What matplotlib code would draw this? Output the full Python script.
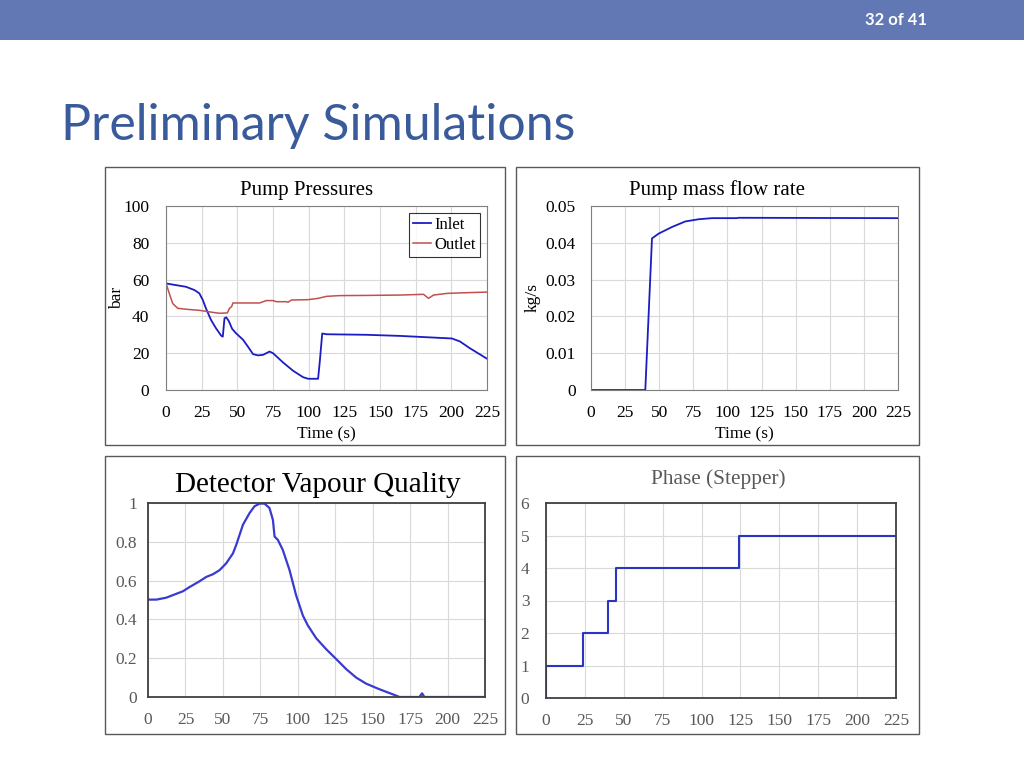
import numpy as np
import matplotlib
matplotlib.use('Agg')
from matplotlib import pyplot as plt
from matplotlib.patches import Rectangle

# pump pressures (bar)
inlet_t = [0, 7, 14, 20, 23.4, 25.8, 28, 31.6, 35, 38.7, 39.8, 41, 42.2, 44, 46.4, 49, 54, 57.4, 61, 64.5, 68,
           72.6, 75, 82, 89, 96, 99.6, 106.6, 107.8, 109.5, 112.5, 140.6, 164, 187.5, 200.4, 206, 213, 225]
inlet_p = [57.9, 57, 56.1, 54.3, 52.5, 48.9, 44.4, 38, 33.6, 29.5, 29, 39, 39.5, 37.5, 33.2, 30.9, 27.3, 23.6, 19.5, 18.8, 19.1,
           20.9, 20, 15, 10.5, 7, 6.1, 6.1, 15.5, 30.7, 30.3, 30, 29.4, 28.5, 28, 26.4, 22.7, 17]
outlet_t = [0, 2.3, 4.7, 8.2, 14, 23.4, 32.8, 37.5, 43, 44.5, 46, 46.9, 65.6, 70.3, 75, 77.3, 84.4, 85.5, 87.9,
            99.6, 106.6, 112.5, 121.9, 140.6, 164, 180.5, 184, 187.5, 196.9, 211, 225]
outlet_p = [58, 52.5, 47, 44.4, 43.9, 43.3, 42.2, 41.7, 41.9, 44.4, 45.3, 47.3, 47.3, 48.6, 48.6, 48, 48, 47.7, 48.9,
            49.1, 49.8, 50.9, 51.3, 51.4, 51.6, 52, 49.8, 51.6, 52.5, 52.9, 53.2]

# pump mass flow (kg/s)
flow_t = [0, 39.8, 44.7, 49.6, 59.4, 69.1, 78.9, 88.7, 107, 108.2, 225]
flow_m = [0, 0, 0.0412, 0.0425, 0.0443, 0.0458, 0.0464, 0.0467, 0.0467, 0.0468, 0.0467]

# detector vapour quality
vq_t = [0, 5.6, 12.2, 23.3, 27.8, 34.5, 38.9, 43.4, 47.8, 52.2, 56.7, 58.9, 63.4, 67.8, 71.1, 74.5, 77.8, 81.1,
        83.4, 84.5, 86.7, 90, 94.5, 98.9, 103.4, 106.7, 112.3, 118.9, 125.6, 132.3, 139, 145.6, 154.5, 163.4,
        167.9, 181.2, 183, 184.5, 225]
vq_x = [0.502, 0.502, 0.512, 0.545, 0.567, 0.597, 0.619, 0.633, 0.654, 0.689, 0.740, 0.784, 0.888, 0.948, 0.983,
        0.997, 0.997, 0.974, 0.913, 0.827, 0.810, 0.758, 0.654, 0.524, 0.420, 0.369, 0.303, 0.247, 0.196, 0.144,
        0.100, 0.069, 0.040, 0.014, 0, 0, 0.019, 0, 0]

# phase stepper
phase_t = [0, 0, 24, 40, 45, 124, 225]
phase_v = [0, 1, 2, 3, 4, 5, 5]

xticks = [0, 25, 50, 75, 100, 125, 150, 175, 200, 225]

W, H = 1024, 768
fig = plt.figure(figsize=(W / 100, H / 100), dpi=100)
serif = ['Liberation Serif', 'DejaVu Serif']

def rect(x0, y0, x1, y1):
    return [x0 / W, 1 - y1 / H, (x1 - x0) / W, (y1 - y0) / H]

def ftext(x, y, s, **kw):
    return fig.text(x / W, 1 - y / H, s, **kw)

# header bar
fig.patches.append(Rectangle((0, 1 - 40 / H), 1, 40 / H, transform=fig.transFigure,
                             facecolor='#6278b5', edgecolor='none', zorder=-2))
ftext(896, 20, '32 of 41', color='white', fontsize=12, family='Lato',
      weight='bold', ha='center', va='center')
ftext(61, 140, 'Preliminary Simulations', color='#3a5b9b', fontsize=36,
      family='Lato', ha='left', va='baseline')

# panel frames
for (x0, y0, x1, y1) in [(105, 167, 505, 445), (516, 167, 919, 445), (105, 456, 505, 734), (516, 456, 919, 734)]:
    r = rect(x0, y0, x1, y1)
    fig.patches.append(Rectangle((r[0], r[1]), r[2], r[3], transform=fig.transFigure,
                                 facecolor='white', edgecolor='#595959', linewidth=1, zorder=-1))

def style(ax, tickcolor, framecolor, lw, xpad, ypad):
    ax.set_xlim(0, 225)
    ax.set_xticks(xticks)
    ax.grid(True, color='#d9d9d9', linewidth=0.8)
    ax.set_axisbelow(True)
    ax.tick_params(length=0, colors=tickcolor, labelsize=12.5)
    ax.tick_params(axis='x', pad=xpad)
    ax.tick_params(axis='y', pad=ypad)
    for s in ax.spines.values():
        s.set_color(framecolor)
        s.set_linewidth(lw)
    for lab in ax.get_xticklabels() + ax.get_yticklabels():
        lab.set_family(serif)

# Pump pressures
ax1 = fig.add_axes(rect(166, 206, 487, 390))
ax1.plot(inlet_t, inlet_p, color='#1c1cc4', linewidth=1.3, label='Inlet')
ax1.plot(outlet_t, outlet_p, color='#c0504d', linewidth=1.1, label='Outlet')
ax1.set_ylim(0, 100)
ax1.set_yticks([0, 20, 40, 60, 80, 100])
style(ax1, 'black', '#7f7f7f', 0.8, 11, 12)
ftext(307, 190, 'Pump Pressures', family=serif, fontsize=15, ha='center', va='center')
ax1.set_xlabel('Time (s)', family=serif, fontsize=12.5, labelpad=4)
ax1.set_ylabel('bar', family=serif, fontsize=12.5, va='center')
ax1.yaxis.set_label_coords(-0.153, 0.5)
leg = ax1.legend(loc='upper right', prop={'family': serif, 'size': 12}, fancybox=False,
                 handlelength=1.1, handletextpad=0.2, borderpad=0.25, labelspacing=0.25,
                 borderaxespad=0.4)
leg.get_frame().set_edgecolor('black')
leg.get_frame().set_linewidth(0.8)

# Pump mass flow rate
ax2 = fig.add_axes(rect(591, 206, 898, 390))
ax2.plot(flow_t, flow_m, color='#1c1cc4', linewidth=1.3)
ax2.set_ylim(0, 0.05)
ax2.set_yticks([0, 0.01, 0.02, 0.03, 0.04, 0.05])
ax2.set_yticklabels(['0', '0.01', '0.02', '0.03', '0.04', '0.05'])
style(ax2, 'black', '#7f7f7f', 0.8, 11, 11)
ftext(717, 190, 'Pump mass flow rate', family=serif, fontsize=15, ha='center', va='center')
ax2.set_xlabel('Time (s)', family=serif, fontsize=12.5, labelpad=4)
ax2.set_ylabel('kg/s', family=serif, fontsize=12.5, va='center')
ax2.yaxis.set_label_coords(-0.189, 0.5)

# Detector vapour quality
ax3 = fig.add_axes(rect(148, 503, 485, 697))
ax3.plot(vq_t, vq_x, color='#3a3ad2', linewidth=1.6)
ax3.set_ylim(0, 1)
ax3.set_yticks([0, 0.2, 0.4, 0.6, 0.8, 1])
ax3.set_yticklabels(['0', '0.2', '0.4', '0.6', '0.8', '1'])
style(ax3, '#595959', '#404040', 1.3, 11, 8)
ftext(318, 485, 'Detector Vapour Quality', family=serif, fontsize=21, ha='center', va='center')

# Phase (stepper)
ax4 = fig.add_axes(rect(546, 503, 896, 698))
ax4.step(phase_t, phase_v, where='post', color='#2a36c2', linewidth=1.5)
ax4.set_ylim(0, 6)
ax4.set_yticks([0, 1, 2, 3, 4, 5, 6])
style(ax4, '#595959', '#404040', 1.3, 11, 12)
ftext(718, 479, 'Phase (Stepper)', family=serif, fontsize=15.3, color='#595959',
      ha='center', va='center')

fig.savefig('out.png', dpi=100)
